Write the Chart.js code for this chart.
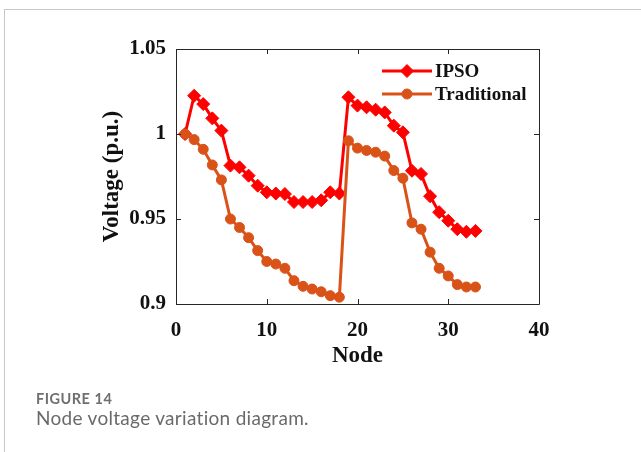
<!DOCTYPE html>
<html>
<head>
<meta charset="utf-8">
<script src="https://cdn.jsdelivr.net/npm/chart.js@4/dist/chart.umd.min.js"></script>
<style>
  html, body { margin: 0; padding: 0; background: #fff; }
  #wrap { position: relative; width: 641px; height: 452px; overflow: hidden; }
  #frame { position: absolute; left: 4px; top: 9px; right: -2px; bottom: -2px;
           border-left: 1px solid #c8c8c8; border-top: 1px solid #c8c8c8; }
  #chart { position: absolute; left: 0; top: 0; }
  .cap1 { position: absolute; left: 36px; top: 390px; font: bold 14.5px Lato, sans-serif;
          letter-spacing: 0.5px; color: #6f6f6f; }
  .cap2 { position: absolute; left: 36px; top: 406px; font: 19px Lato, sans-serif;
          letter-spacing: 0.3px; color: #6a6a6a; }
</style>
</head>
<body>
<div id="wrap">
  <div id="frame"></div>
  <canvas id="chart" width="641" height="452"></canvas>
  <div class="cap1">FIGURE 14</div>
  <div class="cap2">Node voltage variation diagram.</div>
</div>
<script>
// node numbers of the 33-bus system
const nodes = [1, 2, 3, 4, 5, 6, 7, 8, 9, 10, 11, 12, 13, 14, 15, 16, 17,
  18, 19, 20, 21, 22, 23, 24, 25, 26, 27, 28, 29, 30, 31, 32, 33];

// voltage (p.u.)
const ipsoVoltage = [1.000, 1.0225, 1.0176, 1.0092, 1.002, 0.9814, 0.9804, 0.9755,
  0.9696, 0.9657, 0.965, 0.9647, 0.960, 0.960, 0.960, 0.961, 0.9657, 0.965,
  1.0216, 1.0167, 1.0157, 1.0143, 1.0127, 1.0049, 1.001, 0.9784, 0.9765,
  0.9634, 0.954, 0.949, 0.944, 0.9425, 0.943];
const traditionalVoltage = [1.000, 0.9967, 0.991, 0.9818, 0.973, 0.950, 0.945, 0.939,
  0.9314, 0.925, 0.9235, 0.921, 0.9137, 0.9104, 0.9088, 0.9072, 0.9049, 0.904,
  0.996, 0.9917, 0.9903, 0.9893, 0.987, 0.9785, 0.974, 0.9477, 0.944,
  0.9305, 0.921, 0.9165, 0.9114, 0.910, 0.910];

const seriesNames = ['IPSO', 'Traditional'];
const xTicks = [0, 10, 20, 30, 40];
const yTicks = [0.9, 0.95, 1, 1.05];

const serif = "'Liberation Serif', 'Times New Roman', serif";
const axisColor = '#262626';

// MATLAB-style box with inward tick marks
const boxTicks = {
  id: 'boxTicks',
  afterDatasetsDraw(chart) {
    const { ctx, chartArea: a, scales } = chart;
    const len = 5;
    ctx.save();
    ctx.strokeStyle = axisColor;
    ctx.lineWidth = 1;
    ctx.beginPath();
    ctx.rect(Math.round(a.left) + 0.5, Math.round(a.top) + 0.5,
      Math.round(a.right - a.left), Math.round(a.bottom - a.top));
    xTicks.forEach(v => {
      const x = Math.round(scales.x.getPixelForValue(v)) + 0.5;
      ctx.moveTo(x, a.bottom); ctx.lineTo(x, a.bottom - len);
      ctx.moveTo(x, a.top); ctx.lineTo(x, a.top + len);
    });
    yTicks.forEach(v => {
      const y = Math.round(scales.y.getPixelForValue(v)) + 0.5;
      ctx.moveTo(a.left, y); ctx.lineTo(a.left + len, y);
      ctx.moveTo(a.right, y); ctx.lineTo(a.right - len, y);
    });
    ctx.stroke();
    ctx.restore();
  }
};

// legend drawn inside the axes, upper right, line + marker like MATLAB
const insideLegend = {
  id: 'insideLegend',
  afterDraw(chart) {
    const { ctx } = chart;
    const x0 = 382, lineLen = 50, rowY = [71, 94];
    ctx.save();
    chart.data.datasets.forEach((ds, i) => {
      const y = rowY[i];
      ctx.strokeStyle = ds.borderColor;
      ctx.fillStyle = ds.pointBackgroundColor;
      ctx.lineWidth = ds.borderWidth;
      ctx.beginPath();
      ctx.moveTo(x0, y);
      ctx.lineTo(x0 + lineLen, y);
      ctx.stroke();
      ctx.lineWidth = 1;
      Chart.helpers.drawPoint(ctx, {
        pointStyle: ds.pointStyle, radius: ds.pointRadius, rotation: 0, borderWidth: 1
      }, x0 + lineLen / 2, y);
      ctx.fillStyle = '#111';
      ctx.font = 'bold 19px ' + serif;
      ctx.textAlign = 'left';
      ctx.textBaseline = 'middle';
      ctx.fillText(ds.label, x0 + lineLen + 3, y + 1);
    });
    ctx.restore();
  }
};

const fmt = v => String(+Number(v).toFixed(2));

new Chart(document.getElementById('chart'), {
  type: 'line',
  data: {
    datasets: [
      {
        label: seriesNames[0],
        data: nodes.map((n, i) => ({ x: n, y: ipsoVoltage[i] })),
        borderColor: '#ff0000',
        backgroundColor: '#ff0000',
        pointBackgroundColor: '#ff0000',
        pointBorderColor: '#ff0000',
        borderWidth: 3,
        pointStyle: 'rectRot',
        pointRadius: 6.5,
        pointBorderWidth: 1,
        tension: 0,
        order: 1
      },
      {
        label: seriesNames[1],
        data: nodes.map((n, i) => ({ x: n, y: traditionalVoltage[i] })),
        borderColor: '#d95319',
        backgroundColor: '#d95319',
        pointBackgroundColor: '#d95319',
        pointBorderColor: '#d95319',
        borderWidth: 3,
        pointStyle: 'circle',
        pointRadius: 5,
        pointBorderWidth: 1,
        tension: 0,
        order: 0
      }
    ]
  },
  options: {
    responsive: false,
    animation: false,
    layout: { padding: { left: 0, top: 49, right: 102, bottom: 60 } },
    plugins: {
      legend: { display: false },
      tooltip: { enabled: false }
    },
    scales: {
      x: {
        type: 'linear',
        min: 0,
        max: 40,
        afterFit: s => { s.height = 88; },
        afterBuildTicks: s => { s.ticks = xTicks.map(v => ({ value: v })); },
        grid: { display: false, drawTicks: false },
        border: { display: false },
        ticks: {
          color: '#111',
          padding: 14,
          maxRotation: 0,
          font: { family: serif, size: 21, weight: 'bold' },
          callback: fmt
        },
        title: {
          display: true,
          text: 'Node',
          color: '#111',
          padding: { top: 0, bottom: 22 },
          font: { family: serif, size: 23, weight: 'bold' }
        }
      },
      y: {
        min: 0.9,
        max: 1.05,
        afterFit: s => { s.width = 176; },
        afterBuildTicks: s => { s.ticks = yTicks.map(v => ({ value: v })); },
        grid: { display: false, drawTicks: false },
        border: { display: false },
        ticks: {
          color: '#111',
          padding: 10,
          font: { family: serif, size: 21, weight: 'bold' },
          callback: fmt
        },
        title: {
          display: true,
          text: 'Voltage (p.u.)',
          color: '#111',
          padding: { top: 98, bottom: 0 },
          font: { family: serif, size: 23, weight: 'bold' }
        }
      }
    }
  },
  plugins: [boxTicks, insideLegend]
});
</script>
</body>
</html>
